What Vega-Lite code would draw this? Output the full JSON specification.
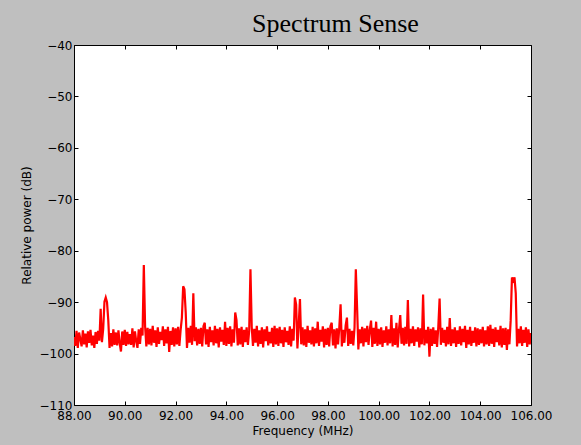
{
"$schema": "https://vega.github.io/schema/vega-lite/v6.json",
"width": 457, "height": 360,
"autosize": {"type": "none"},
"padding": {"left": 74, "top": 45, "right": 50, "bottom": 40},
"background": "#bfbfbf",
"title": {"text": "Spectrum Sense", "font": "Liberation Serif", "fontSize": 26, "fontWeight": "normal", "color": "#000000", "anchor": "middle", "dx": 33, "offset": 2},
"config": {
  "view": {"fill": "#ffffff", "stroke": "#000000", "strokeWidth": 1},
  "axis": {"domain": false, "grid": false, "tickColor": "#000000", "tickSize": -4, "tickWidth": 1, "labelFont": "DejaVu Sans", "labelFontSize": 12, "labelColor": "#000000", "titleFont": "DejaVu Sans", "titleFontSize": 12, "titleFontWeight": "normal", "titleColor": "#000000", "labelFlush": false, "labelOverlap": false}
},
"data": {"values": [
{"f":88.00,"p":-96.8},{"f":88.05,"p":-98.5},{"f":88.10,"p":-95.6},{"f":88.15,"p":-98.9},{"f":88.20,"p":-95.9},{"f":88.25,"p":-97.2},{"f":88.30,"p":-98.6},{"f":88.35,"p":-95.5},{"f":88.40,"p":-98.2},{"f":88.45,"p":-96.1},{"f":88.50,"p":-98.8},{"f":88.55,"p":-95.7},{"f":88.60,"p":-97.9},{"f":88.65,"p":-95.4},{"f":88.70,"p":-98.4},{"f":88.75,"p":-96.5},{"f":88.80,"p":-98.9},{"f":88.85,"p":-95.8},{"f":88.90,"p":-98.1},{"f":88.95,"p":-95.6},
{"f":89.00,"p":-97.5},{"f":89.05,"p":-91.3},{"f":89.10,"p":-97.8},{"f":89.15,"p":-95.2},{"f":89.20,"p":-89.9},{"f":89.25,"p":-89.1},{"f":89.30,"p":-90.0},{"f":89.35,"p":-93.5},{"f":89.40,"p":-98.9},{"f":89.45,"p":-96.0},{"f":89.50,"p":-98.6},{"f":89.55,"p":-95.3},{"f":89.60,"p":-98.3},{"f":89.65,"p":-95.9},{"f":89.70,"p":-98.4},{"f":89.75,"p":-95.5},{"f":89.80,"p":-98.0},{"f":89.85,"p":-99.6},{"f":89.90,"p":-95.7},{"f":89.95,"p":-98.3},
{"f":90.00,"p":-95.4},{"f":90.05,"p":-98.5},{"f":90.10,"p":-95.8},{"f":90.15,"p":-98.2},{"f":90.20,"p":-96.2},{"f":90.25,"p":-98.3},{"f":90.30,"p":-95.1},{"f":90.35,"p":-98.8},{"f":90.40,"p":-95.7},{"f":90.45,"p":-97.6},{"f":90.50,"p":-98.9},{"f":90.55,"p":-95.3},{"f":90.60,"p":-98.1},{"f":90.65,"p":-95.0},{"f":90.70,"p":-96.5},{"f":90.75,"p":-82.8},{"f":90.80,"p":-94.7},{"f":90.85,"p":-98.6},{"f":90.90,"p":-95.0},{"f":90.95,"p":-98.2},
{"f":91.00,"p":-95.2},{"f":91.05,"p":-98.4},{"f":91.10,"p":-94.6},{"f":91.15,"p":-97.9},{"f":91.20,"p":-95.5},{"f":91.25,"p":-98.7},{"f":91.30,"p":-94.9},{"f":91.35,"p":-98.1},{"f":91.40,"p":-95.8},{"f":91.45,"p":-97.4},{"f":91.50,"p":-94.7},{"f":91.55,"p":-98.5},{"f":91.60,"p":-95.3},{"f":91.65,"p":-98.0},{"f":91.70,"p":-94.8},{"f":91.75,"p":-99.7},{"f":91.80,"p":-95.6},{"f":91.85,"p":-98.3},{"f":91.90,"p":-94.9},{"f":91.95,"p":-98.6},
{"f":92.00,"p":-95.1},{"f":92.05,"p":-98.2},{"f":92.10,"p":-94.8},{"f":92.15,"p":-98.5},{"f":92.20,"p":-95.4},{"f":92.25,"p":-93.0},{"f":92.30,"p":-86.9},{"f":92.35,"p":-87.5},{"f":92.40,"p":-92.0},{"f":92.45,"p":-98.9},{"f":92.50,"p":-95.0},{"f":92.55,"p":-97.9},{"f":92.60,"p":-94.6},{"f":92.65,"p":-98.3},{"f":92.70,"p":-88.3},{"f":92.75,"p":-97.6},{"f":92.80,"p":-94.9},{"f":92.85,"p":-98.4},{"f":92.90,"p":-95.2},{"f":92.95,"p":-98.1},
{"f":93.00,"p":-95.0},{"f":93.05,"p":-98.6},{"f":93.10,"p":-94.7},{"f":93.15,"p":-94.0},{"f":93.20,"p":-98.2},{"f":93.25,"p":-95.3},{"f":93.30,"p":-98.7},{"f":93.35,"p":-94.8},{"f":93.40,"p":-97.8},{"f":93.45,"p":-95.5},{"f":93.50,"p":-98.4},{"f":93.55,"p":-94.6},{"f":93.60,"p":-98.0},{"f":93.65,"p":-95.2},{"f":93.70,"p":-98.8},{"f":93.75,"p":-94.9},{"f":93.80,"p":-97.7},{"f":93.85,"p":-95.4},{"f":93.90,"p":-98.3},{"f":93.95,"p":-93.8},
{"f":94.00,"p":-98.5},{"f":94.05,"p":-95.0},{"f":94.10,"p":-98.1},{"f":94.15,"p":-94.7},{"f":94.20,"p":-98.6},{"f":94.25,"p":-95.3},{"f":94.30,"p":-97.9},{"f":94.35,"p":-92.0},{"f":94.40,"p":-93.5},{"f":94.45,"p":-98.4},{"f":94.50,"p":-95.1},{"f":94.55,"p":-98.2},{"f":94.60,"p":-94.8},{"f":94.65,"p":-98.7},{"f":94.70,"p":-95.4},{"f":94.75,"p":-97.8},{"f":94.80,"p":-94.9},{"f":94.85,"p":-98.3},{"f":94.90,"p":-95.6},{"f":94.95,"p":-83.6},
{"f":95.00,"p":-94.8},{"f":95.05,"p":-98.5},{"f":95.10,"p":-95.2},{"f":95.15,"p":-97.9},{"f":95.20,"p":-94.6},{"f":95.25,"p":-98.6},{"f":95.30,"p":-95.5},{"f":95.35,"p":-98.1},{"f":95.40,"p":-94.9},{"f":95.45,"p":-98.8},{"f":95.50,"p":-95.3},{"f":95.55,"p":-97.6},{"f":95.60,"p":-94.7},{"f":95.65,"p":-98.4},{"f":95.70,"p":-95.8},{"f":95.75,"p":-98.0},{"f":95.80,"p":-95.0},{"f":95.85,"p":-98.7},{"f":95.90,"p":-94.6},{"f":95.95,"p":-98.2},
{"f":96.00,"p":-95.1},{"f":96.05,"p":-98.5},{"f":96.10,"p":-94.8},{"f":96.15,"p":-98.0},{"f":96.20,"p":-95.4},{"f":96.25,"p":-98.7},{"f":96.30,"p":-94.9},{"f":96.35,"p":-97.8},{"f":96.40,"p":-95.6},{"f":96.45,"p":-98.3},{"f":96.50,"p":-94.7},{"f":96.55,"p":-98.6},{"f":96.60,"p":-95.2},{"f":96.65,"p":-97.5},{"f":96.70,"p":-89.1},{"f":96.75,"p":-90.5},{"f":96.80,"p":-99.0},{"f":96.85,"p":-94.5},{"f":96.90,"p":-89.4},{"f":96.95,"p":-98.2},
{"f":97.00,"p":-94.9},{"f":97.05,"p":-98.4},{"f":97.10,"p":-95.3},{"f":97.15,"p":-98.7},{"f":97.20,"p":-94.6},{"f":97.25,"p":-97.9},{"f":97.30,"p":-95.5},{"f":97.35,"p":-98.2},{"f":97.40,"p":-94.8},{"f":97.45,"p":-98.6},{"f":97.50,"p":-95.1},{"f":97.55,"p":-98.0},{"f":97.60,"p":-93.8},{"f":97.65,"p":-98.5},{"f":97.70,"p":-95.4},{"f":97.75,"p":-97.7},{"f":97.80,"p":-94.7},{"f":97.85,"p":-98.8},{"f":97.90,"p":-95.2},{"f":97.95,"p":-98.3},
{"f":98.00,"p":-95.0},{"f":98.05,"p":-98.6},{"f":98.10,"p":-94.7},{"f":98.15,"p":-94.0},{"f":98.20,"p":-98.4},{"f":98.25,"p":-95.3},{"f":98.30,"p":-99.0},{"f":98.35,"p":-95.1},{"f":98.40,"p":-98.2},{"f":98.45,"p":-94.9},{"f":98.50,"p":-90.4},{"f":98.55,"p":-98.6},{"f":98.60,"p":-95.4},{"f":98.65,"p":-97.9},{"f":98.70,"p":-94.5},{"f":98.75,"p":-93.0},{"f":98.80,"p":-98.5},{"f":98.85,"p":-95.2},{"f":98.90,"p":-98.1},{"f":98.95,"p":-95.6},
{"f":99.00,"p":-98.4},{"f":99.05,"p":-94.9},{"f":99.10,"p":-83.6},{"f":99.15,"p":-91.0},{"f":99.20,"p":-99.2},{"f":99.25,"p":-95.3},{"f":99.30,"p":-98.0},{"f":99.35,"p":-94.8},{"f":99.40,"p":-98.6},{"f":99.45,"p":-95.1},{"f":99.50,"p":-97.8},{"f":99.55,"p":-94.6},{"f":99.60,"p":-98.3},{"f":99.65,"p":-95.4},{"f":99.70,"p":-93.6},{"f":99.75,"p":-98.7},{"f":99.80,"p":-95.0},{"f":99.85,"p":-98.1},{"f":99.90,"p":-93.8},{"f":99.95,"p":-98.5},
{"f":100.00,"p":-95.2},{"f":100.05,"p":-98.2},{"f":100.10,"p":-94.9},{"f":100.15,"p":-98.7},{"f":100.20,"p":-95.5},{"f":100.25,"p":-97.9},{"f":100.30,"p":-94.7},{"f":100.35,"p":-98.4},{"f":100.40,"p":-95.3},{"f":100.45,"p":-98.0},{"f":100.50,"p":-92.5},{"f":100.55,"p":-98.6},{"f":100.60,"p":-95.1},{"f":100.65,"p":-98.3},{"f":100.70,"p":-94.0},{"f":100.75,"p":-98.8},{"f":100.80,"p":-95.4},{"f":100.85,"p":-92.5},{"f":100.90,"p":-98.1},{"f":100.95,"p":-95.0},
{"f":101.00,"p":-98.4},{"f":101.05,"p":-94.8},{"f":101.10,"p":-98.1},{"f":101.15,"p":-89.6},{"f":101.20,"p":-98.6},{"f":101.25,"p":-95.2},{"f":101.30,"p":-98.0},{"f":101.35,"p":-94.7},{"f":101.40,"p":-98.5},{"f":101.45,"p":-95.3},{"f":101.50,"p":-97.7},{"f":101.55,"p":-94.9},{"f":101.60,"p":-98.8},{"f":101.65,"p":-95.1},{"f":101.70,"p":-98.2},{"f":101.75,"p":-88.5},{"f":101.80,"p":-98.4},{"f":101.85,"p":-95.4},{"f":101.90,"p":-98.0},{"f":101.95,"p":-94.8},
{"f":102.00,"p":-100.6},{"f":102.05,"p":-95.2},{"f":102.10,"p":-98.5},{"f":102.15,"p":-94.9},{"f":102.20,"p":-98.1},{"f":102.25,"p":-95.5},{"f":102.30,"p":-98.7},{"f":102.35,"p":-94.7},{"f":102.40,"p":-89.3},{"f":102.45,"p":-98.3},{"f":102.50,"p":-95.0},{"f":102.55,"p":-97.9},{"f":102.60,"p":-95.4},{"f":102.65,"p":-98.6},{"f":102.70,"p":-94.8},{"f":102.75,"p":-98.2},{"f":102.80,"p":-93.1},{"f":102.85,"p":-98.5},{"f":102.90,"p":-95.3},{"f":102.95,"p":-98.0},
{"f":103.00,"p":-94.9},{"f":103.05,"p":-98.7},{"f":103.10,"p":-95.5},{"f":103.15,"p":-98.1},{"f":103.20,"p":-94.7},{"f":103.25,"p":-98.4},{"f":103.30,"p":-95.2},{"f":103.35,"p":-97.8},{"f":103.40,"p":-94.6},{"f":103.45,"p":-98.9},{"f":103.50,"p":-95.4},{"f":103.55,"p":-98.2},{"f":103.60,"p":-94.8},{"f":103.65,"p":-98.5},{"f":103.70,"p":-95.6},{"f":103.75,"p":-97.9},{"f":103.80,"p":-94.9},{"f":103.85,"p":-98.6},{"f":103.90,"p":-95.1},{"f":103.95,"p":-98.3},
{"f":104.00,"p":-95.3},{"f":104.05,"p":-98.0},{"f":104.10,"p":-94.8},{"f":104.15,"p":-98.6},{"f":104.20,"p":-95.5},{"f":104.25,"p":-98.2},{"f":104.30,"p":-94.7},{"f":104.35,"p":-98.5},{"f":104.40,"p":-94.4},{"f":104.45,"p":-98.1},{"f":104.50,"p":-95.2},{"f":104.55,"p":-98.7},{"f":104.60,"p":-94.9},{"f":104.65,"p":-97.8},{"f":104.70,"p":-95.4},{"f":104.75,"p":-98.4},{"f":104.80,"p":-94.6},{"f":104.85,"p":-98.8},{"f":104.90,"p":-95.1},{"f":104.95,"p":-98.3},
{"f":105.00,"p":-95.0},{"f":105.05,"p":-99.3},{"f":105.10,"p":-95.3},{"f":105.15,"p":-98.2},{"f":105.20,"p":-93.5},{"f":105.25,"p":-85.2},{"f":105.30,"p":-85.8},{"f":105.35,"p":-85.2},{"f":105.40,"p":-88.3},{"f":105.45,"p":-98.6},{"f":105.50,"p":-95.2},{"f":105.55,"p":-98.0},{"f":105.60,"p":-94.7},{"f":105.65,"p":-98.5},{"f":105.70,"p":-95.4},{"f":105.75,"p":-97.9},{"f":105.80,"p":-94.9},{"f":105.85,"p":-98.7},{"f":105.90,"p":-95.3},{"f":105.95,"p":-98.2},
{"f":106.00,"p":-96.0}
]},
"layer": [
  {
    "mark": {"type": "line", "color": "#ff0000", "strokeWidth": 2.2, "strokeJoin": "miter", "clip": true},
    "encoding": {
      "x": {"field": "f", "type": "quantitative", "scale": {"domain": [88, 106], "nice": false, "zero": false},
            "axis": {"orient": "bottom", "values": [88, 90, 92, 94, 96, 98, 100, 102, 104, 106], "format": ".2f", "labelPadding": 9, "title": "Frequency (MHz)", "titlePadding": 4}},
      "y": {"field": "p", "type": "quantitative", "scale": {"domain": [-110, -40], "nice": false, "zero": false},
            "axis": {"orient": "left", "values": [-110, -100, -90, -80, -70, -60, -50, -40], "labelPadding": 6, "title": "Relative power (dB)", "titlePadding": 6}}
    }
  },
  {
    "mark": {"type": "line", "strokeOpacity": 0},
    "encoding": {
      "x": {"field": "f", "type": "quantitative", "axis": {"orient": "top", "values": [88, 90, 92, 94, 96, 98, 100, 102, 104, 106], "labels": false, "title": null}},
      "y": {"field": "p", "type": "quantitative", "axis": {"orient": "right", "values": [-110, -100, -90, -80, -70, -60, -50, -40], "labels": false, "title": null}}
    }
  }
],
"resolve": {"axis": {"x": "independent", "y": "independent"}}
}
